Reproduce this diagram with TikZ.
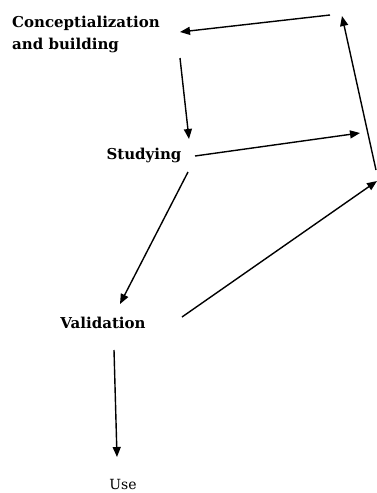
\documentclass[tikz,border=0pt]{standalone}
\usepackage{fontspec}
\setmainfont{DejaVu Serif}
\usetikzlibrary{arrows.meta}
\begin{document}
\begin{tikzpicture}[x=1pt,y=-1pt,
  lbl/.style={font=\bfseries\fontsize{15}{22}\selectfont, inner sep=0pt, align=left},
  lblu/.style={font=\fontsize{14}{16}\selectfont, inner sep=0pt},
  arr/.style={line width=1.4pt, -{Triangle[length=10pt,width=8pt]}}]
\useasboundingbox (0,0) rectangle (376,493);
\node[lbl, anchor=north west] (c) at (12,16) {Conceptialization\\and building};
\node[lbl] (s) at (144,155) {Studying};
\node[lbl] (v) at (103,323) {Validation};
\node[lblu, anchor=base] (u) at (123,489) {Use};
% connector ends
\coordinate (r1) at (330,15);
\coordinate (r2) at (376,170);
\coordinate (rt) at (342,16);
\coordinate (rs) at (360,133);
\coordinate (rv) at (377,181);
\coordinate (c1) at (180,32);
\coordinate (c2) at (180,58);
\coordinate (s1) at (189,139);
\coordinate (s2) at (195,156);
\coordinate (s3) at (188,172);
\coordinate (v1) at (120,304);
\coordinate (v2) at (182,317);
\coordinate (v3) at (114,350);
\coordinate (u1) at (117,457);
\draw[arr] (r1) -- (c1);
\draw[arr] (c2) -- (s1);
\draw[arr] (s2) -- (rs);
\draw[arr] (r2) -- (rt);
\draw[arr] (s3) -- (v1);
\draw[arr] (v2) -- (rv);
\draw[arr] (v3) -- (u1);
\end{tikzpicture}
\end{document}
